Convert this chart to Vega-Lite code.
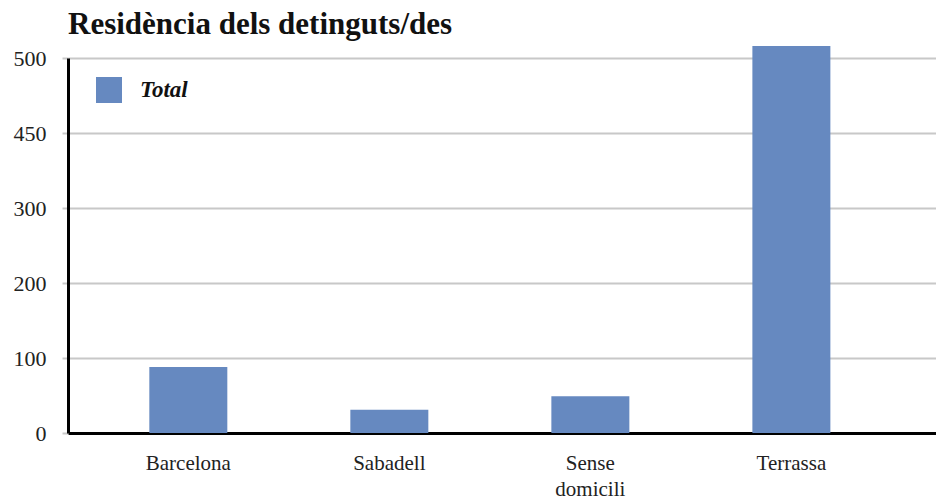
{
  "$schema": "https://vega.github.io/schema/vega-lite/v6.json",
  "autosize": "none",
  "width": 868,
  "height": 375,
  "padding": {"left": 68, "top": 58, "right": 0, "bottom": 66},
  "background": "white",
  "title": {
    "text": "Residència dels detinguts/des",
    "anchor": "start",
    "frame": "group",
    "font": "Liberation Serif",
    "fontSize": 31,
    "fontWeight": "bold",
    "color": "#111111",
    "offset": 5
  },
  "data": {
    "values": [
      {"residencia": "Barcelona", "serie": "Total", "detinguts": 88},
      {"residencia": "Sabadell", "serie": "Total", "detinguts": 31},
      {"residencia": "Sense domicili", "serie": "Total", "detinguts": 49},
      {"residencia": "Terrassa", "serie": "Total", "detinguts": 516}
    ]
  },
  "mark": {"type": "bar", "color": "#6689c0"},
  "encoding": {
    "x": {
      "field": "residencia",
      "type": "nominal",
      "sort": null,
      "scale": {"paddingInner": 0.612, "paddingOuter": 0.465, "align": 0.435},
      "axis": {
        "title": null,
        "labelAngle": 0,
        "labelFont": "Liberation Serif",
        "labelFontSize": 21,
        "labelColor": "#222222",
        "labelPadding": 19,
        "labelLineHeight": 26,
        "labelExpr": "datum.label == 'Sense domicili' ? ['Sense', 'domicili'] : datum.label",
        "ticks": false,
        "domainColor": "#000000",
        "domainWidth": 3,
        "grid": false
      }
    },
    "y": {
      "field": "detinguts",
      "type": "quantitative",
      "scale": {"domain": [0, 500], "nice": false},
      "axis": {
        "title": null,
        "values": [0, 100, 200, 300, 400, 500],
        "labelExpr": "datum.value == 400 ? '450' : datum.label",
        "labelFont": "Liberation Serif",
        "labelFontSize": 22,
        "labelColor": "#222222",
        "labelPadding": 16,
        "tickColor": "#c8c8c8",
        "tickSize": 6,
        "tickWidth": 2,
        "grid": true,
        "gridColor": "#c8c8c8",
        "gridWidth": 2,
        "domainColor": "#000000",
        "domainWidth": 3
      }
    },
    "color": {
      "field": "serie",
      "type": "nominal",
      "scale": {"range": ["#6689c0"]},
      "legend": {
        "title": null,
        "orient": "none",
        "legendX": 28,
        "legendY": 19,
        "symbolType": "square",
        "symbolSize": 676,
        "symbolStrokeWidth": 0,
        "labelFont": "Liberation Serif",
        "labelFontSize": 23,
        "labelFontWeight": "bold",
        "labelFontStyle": "italic",
        "labelColor": "#111111",
        "labelOffset": 18
      }
    }
  },
  "config": {"view": {"stroke": null}}
}
